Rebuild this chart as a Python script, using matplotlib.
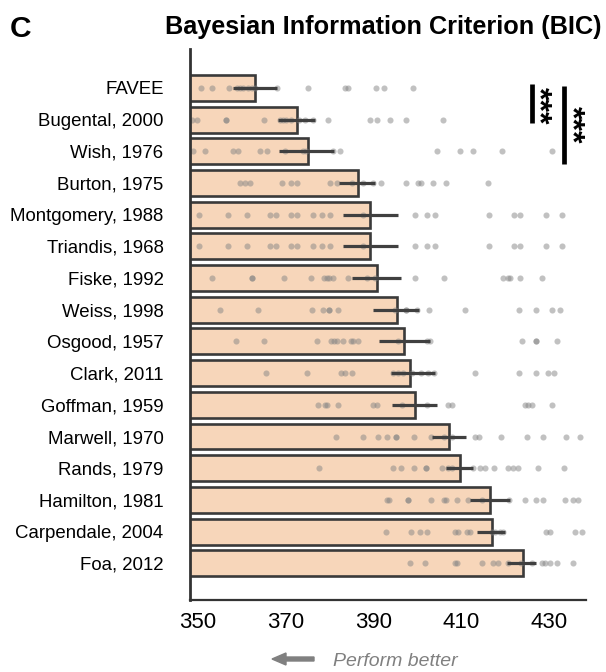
import matplotlib
matplotlib.use("Agg")
import matplotlib.pyplot as plt
import numpy as np

plt.rcParams['font.family'] = ['Liberation Sans', 'DejaVu Sans']

models = ["FAVEE", "Bugental, 2000", "Wish, 1976", "Burton, 1975", "Montgomery, 1988",
          "Triandis, 1968", "Fiske, 1992", "Weiss, 1998", "Osgood, 1957", "Clark, 2011",
          "Goffman, 1959", "Marwell, 1970", "Rands, 1979", "Hamilton, 1981",
          "Carpendale, 2004", "Foa, 2012"]

bic_mean = [363.0, 372.5, 375.1, 386.4, 389.3, 389.3, 390.8, 395.3, 396.9, 398.4,
            399.5, 407.2, 409.8, 416.5, 416.9, 424.0]
ci_low = [358.0, 368.3, 368.5, 382.2, 383.1, 383.1, 385.2, 389.8, 391.3, 393.9,
          394.2, 403.4, 406.6, 412.0, 413.5, 420.5]
ci_high = [367.9, 376.7, 381.0, 390.3, 395.6, 395.6, 396.2, 400.4, 402.8, 404.0,
           404.5, 411.0, 412.7, 421.1, 419.9, 427.1]

participant_bic = [
    [350.8, 353.1, 357.1, 358.8, 359.6, 360.3, 361.5, 362.2, 363.0, 367.9, 375.1, 383.6,
     384.1, 390.5, 392.4, 398.9],
    [348.6, 349.8, 356.3, 356.3, 365.0, 368.7, 369.3, 370.0, 371.3, 372.9, 374.4, 376.3,
     379.7, 389.2, 390.7, 393.7, 397.5, 405.9],
    [348.9, 351.7, 358.0, 359.2, 364.1, 365.8, 369.8, 374.0, 374.6, 380.8, 382.3, 404.4,
     409.7, 412.6, 419.2, 430.6],
    [359.6, 360.7, 361.8, 369.1, 371.3, 372.5, 380.1, 381.6, 385.2, 387.7, 389.8, 391.8,
     397.5, 400.2, 400.9, 403.6, 406.4, 416.1],
    [350.2, 356.8, 361.1, 366.4, 367.7, 371.3, 372.5, 376.1, 378.3, 380.1, 387.7, 399.4,
     402.2, 404.0, 416.4, 422.1, 423.3, 429.3, 433.0],
    [350.2, 356.8, 361.1, 366.4, 367.7, 371.3, 372.5, 376.1, 378.3, 380.1, 387.7, 399.4,
     402.2, 404.0, 416.4, 422.1, 423.3, 429.3, 433.0],
    [353.3, 362.2, 362.2, 369.7, 375.7, 378.7, 379.3, 379.8, 380.8, 384.2, 388.6, 390.3,
     399.4, 406.1, 419.6, 420.7, 421.1, 423.3, 428.3],
    [355.0, 363.6, 376.0, 378.5, 379.9, 379.9, 381.9, 394.9, 397.3, 397.3, 399.8, 402.7,
     410.8, 423.2, 427.1, 430.7, 432.5],
    [358.7, 365.1, 377.2, 380.2, 381.0, 381.7, 383.1, 384.8, 385.4, 386.4, 395.6, 402.1,
     402.8, 423.9, 427.1, 427.1, 431.7],
    [365.4, 374.8, 382.6, 383.6, 385.0, 394.5, 395.6, 396.8, 398.8, 400.7, 402.5, 403.8,
     413.1, 423.1, 427.1, 429.7, 431.2],
    [377.4, 378.9, 379.3, 382.0, 389.9, 390.7, 396.4, 402.1, 407.0, 407.8, 424.5, 425.2,
     426.0, 430.6],
    [381.4, 387.7, 390.9, 393.0, 395.0, 395.0, 399.1, 403.0, 406.0, 407.9, 413.1, 414.1,
     419.0, 424.9, 428.5, 433.8, 437.0],
    [377.6, 394.5, 396.2, 399.3, 401.9, 401.9, 405.5, 407.0, 407.8, 412.6, 414.2, 415.4,
     417.5, 420.7, 421.8, 423.0, 427.4, 433.4],
    [393.1, 393.6, 397.9, 397.9, 403.2, 406.0, 406.6, 408.9, 411.6, 414.8, 420.9, 424.5,
     427.1, 428.7, 433.6, 435.5, 436.6],
    [392.8, 398.5, 400.6, 402.1, 408.5, 409.3, 411.2, 412.0, 416.9, 417.7, 418.8, 419.6,
     429.2, 430.2, 435.9, 437.4],
    [398.3, 401.7, 408.5, 409.1, 414.6, 417.3, 418.4, 420.7, 423.7, 426.0, 428.3, 429.0,
     430.3, 431.9, 435.5],
]

x_ticks = [350, 370, 390, 410, 430]
# significance comparisons: (row a, row b, label)
comparisons = [(0, 1, "***"), (0, 2, "***")]

W, H = 606, 672
fig = plt.figure(figsize=(W / 100, H / 100), dpi=100)
ax = fig.add_axes([190 / W, 1 - 600 / H, (586 - 190) / W, (600 - 49) / H])

y = np.arange(len(models))
ax.barh(y, bic_mean, height=0.82, color="#F7D6BA", edgecolor="#3a3a3a",
        linewidth=1.9, zorder=1)

for i, vals in enumerate(participant_bic):
    ax.plot(vals, np.full(len(vals), i), "o", ms=4.4, color="#858585",
            alpha=0.5, mec="none", zorder=2, clip_on=True)

ax.hlines(y, ci_low, ci_high, color="#404040", linewidth=2.3, zorder=3)

ax.set_xlim(348.18, 438.4)
ax.set_ylim(16.16, -1.23)
ax.set_yticks(y)
ax.set_yticklabels(models, fontsize=13.4)
ax.set_xticks(x_ticks)
ax.set_xticklabels([str(t) for t in x_ticks], fontsize=16)
ax.tick_params(axis="y", length=0, pad=19)
ax.tick_params(axis="x", length=0, pad=9)
for s in ["top", "right"]:
    ax.spines[s].set_visible(False)
ax.spines["left"].set_linewidth(2.0)
ax.spines["left"].set_color("#333333")
ax.spines["bottom"].set_linewidth(1.6)
ax.spines["bottom"].set_color("#333333")

# significance bars
bar_x = [426.0, 433.4]
star_x = [427.3, 435.0]
for (a, b, lab), bx, sx in zip(comparisons, bar_x, star_x):
    span = b - a
    y_top = a - 0.12 + 0.05 * (span - 1)
    y_bot = b + 0.1 + 0.3 * (span - 1)
    ax.plot([bx, bx], [y_top, y_bot], color="black",
            linewidth=3.4, solid_capstyle="butt", clip_on=False, zorder=4)
    ymid = (a + b) / 2 + 0.05 + 0.12 * (span - 1)
    ax.text(sx, ymid, lab, rotation=270, ha="center", va="center",
            fontsize=23, fontweight="bold", zorder=4)

fig.text(165 / W, 1 - 34 / H, "Bayesian Information Criterion (BIC)",
         ha="left", va="baseline", fontsize=18.2, fontweight="bold")
fig.text(10 / W, 1 - 37 / H, "C", ha="left", va="baseline", fontsize=21.5,
         fontweight="bold")

fig.text(333 / W, 1 - 661 / H, "Perform better", ha="left", va="center",
         fontsize=14, style="italic", color="#808080")
fig.patches.append(matplotlib.patches.FancyArrow(
    314 / W, 1 - 659 / H, -42 / W + 0.0, 0, width=4 / H, head_width=12 / H,
    head_length=14 / W, length_includes_head=True, color="#808080",
    transform=fig.transFigure, figure=fig))

fig.savefig("out.png", dpi=100)
